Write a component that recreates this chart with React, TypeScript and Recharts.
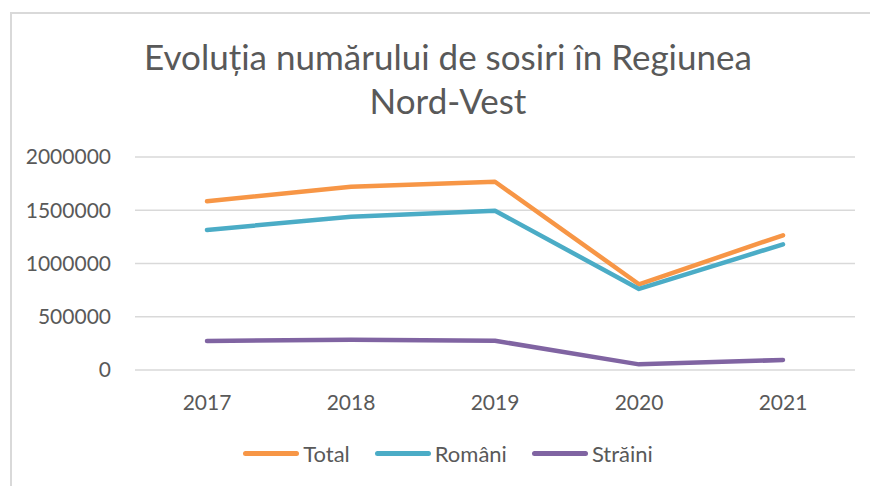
import { CartesianGrid, Line, LineChart, XAxis, YAxis } from "recharts";

const years = ["2017", "2018", "2019", "2020", "2021"];
const total = [1584000, 1721000, 1768000, 805000, 1265000];
const romani = [1315000, 1440000, 1496000, 761000, 1180000];
const straini = [272000, 285000, 275000, 53000, 94000];
const yTicks = [0, 500000, 1000000, 1500000, 2000000];

const SERIES = [
  { key: "total", name: "Total", color: "#F79646" },
  { key: "romani", name: "Români", color: "#4BACC6" },
  { key: "straini", name: "Străini", color: "#8064A2" },
];

const FONT = "Lato, 'Open Sans', sans-serif";
const TEXT = "#595959";

export default function App() {
  const data = years.map((year, i) => ({
    year,
    total: total[i],
    romani: romani[i],
    straini: straini[i],
  }));

  return (
    <div
      style={{
        position: "absolute",
        left: 0,
        top: 0,
        width: 870,
        height: 486,
        background: "white",
        overflow: "hidden",
        fontFamily: FONT,
      }}
    >
      <div
        style={{
          position: "absolute",
          left: 10,
          top: 12,
          width: 870,
          height: 486,
          borderTop: "2px solid #d9d9d9",
          borderLeft: "2px solid #d9d9d9",
        }}
      />
      <div
        style={{
          position: "absolute",
          left: 0,
          width: 896,
          top: 34,
          textAlign: "center",
          fontSize: 35,
          lineHeight: "44px",
          color: TEXT,
        }}
      >
        Evoluția numărului de sosiri în Regiunea
        <br />
        Nord-Vest
      </div>

      <div style={{ position: "absolute", left: 0, top: 0 }}>
        <LineChart
          width={870}
          height={486}
          data={data}
          margin={{ top: 157, right: 15, bottom: 86, left: 0 }}
        >
          <CartesianGrid vertical={false} stroke="#d9d9d9" strokeWidth={1.5} />
          <XAxis
            dataKey="year"
            height={30}
            padding={{ left: 72, right: 72 }}
            axisLine={false}
            tickLine={false}
            tickSize={0}
            tickMargin={25}
            tick={{ fontSize: 21, fill: TEXT, fontFamily: FONT }}
          />
          <YAxis
            width={135}
            domain={[0, 2000000]}
            ticks={yTicks}
            interval={0}
            axisLine={false}
            tickLine={false}
            tickSize={0}
            tickMargin={24}
            tick={{ fontSize: 21, fill: TEXT, fontFamily: FONT }}
          />
          {SERIES.map((s) => (
            <Line
              key={s.key}
              dataKey={s.key}
              name={s.name}
              stroke={s.color}
              strokeWidth={4.5}
              strokeLinecap="round"
              strokeLinejoin="round"
              dot={false}
              activeDot={false}
              isAnimationActive={false}
            />
          ))}
        </LineChart>
      </div>

      <div
        style={{
          position: "absolute",
          left: 0,
          top: 440,
          width: 896,
          display: "flex",
          justifyContent: "center",
          gap: 25,
          fontSize: 22,
          color: TEXT,
        }}
      >
        {SERIES.map((s) => (
          <div key={s.key} style={{ display: "flex", alignItems: "center" }}>
            <span
              style={{
                display: "inline-block",
                width: 56,
                height: 5,
                borderRadius: 3,
                background: s.color,
                marginRight: 4,
              }}
            />
            <span>{s.name}</span>
          </div>
        ))}
      </div>
    </div>
  );
}
